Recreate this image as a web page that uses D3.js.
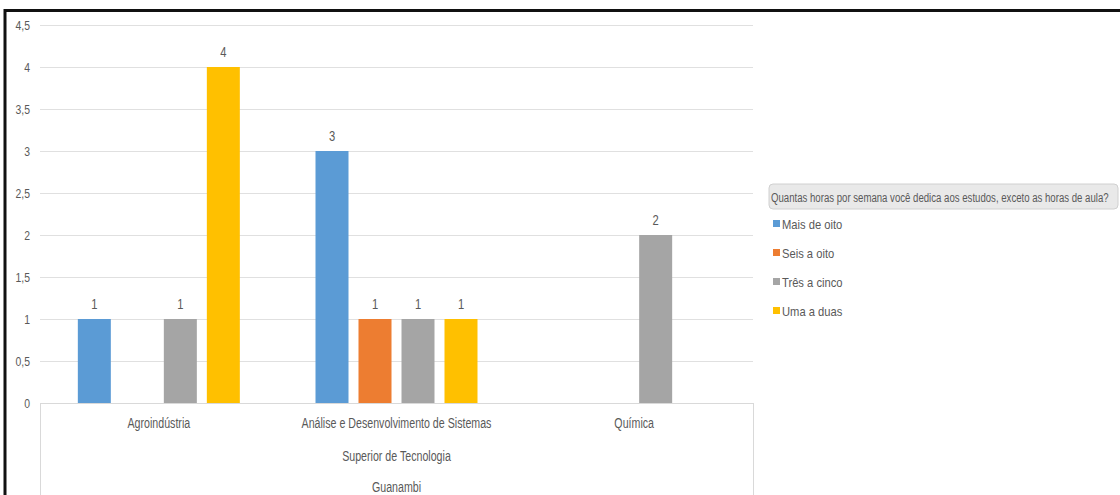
<!DOCTYPE html>
<html>
<head>
<meta charset="utf-8">
<script src="https://cdn.jsdelivr.net/npm/d3@7"></script>
<style>
  html, body { margin: 0; padding: 0; background: #fff; }
  svg { display: block; }
  text { font-family: "Liberation Sans", Arial, sans-serif; fill: #595959; }
</style>
</head>
<body>
<svg id="chart" width="1120" height="495"></svg>
<script>
const categories = ["Agroindústria", "Análise e Desenvolvimento de Sistemas", "Química"];
const level2Label = "Superior de Tecnologia";
const level3Label = "Guanambi";
const seriesNames = ["Mais de oito", "Seis a oito", "Três a cinco", "Uma a duas"];
const maisDeOito = [1, 3, null];
const seisAOito = [null, 1, null];
const tresACinco = [1, 1, 2];
const umaADuas = [4, 1, null];
const seriesColors = ["#5B9BD5", "#ED7D31", "#A5A5A5", "#FFC000"];
const yTicks = [0, 0.5, 1, 1.5, 2, 2.5, 3, 3.5, 4, 4.5];
const legendTitle = "Quantas horas por semana você dedica aos estudos, exceto as horas de aula?";

const seriesValues = [maisDeOito, seisAOito, tresACinco, umaADuas];
const FONT = '"Liberation Sans", Arial, sans-serif';

const svg = d3.select("#chart");
const plot = { left: 40, right: 753, top: 25, bottom: 403 };

const y = d3.scaleLinear().domain([0, 4.5]).range([plot.bottom, plot.top]);
const x0 = d3.scaleBand().domain(categories).range([plot.left, plot.right]).padding(0);
const groupW = 172;
const x1 = d3.scaleBand().domain(seriesNames).range([0, groupW]).paddingInner(10/43).paddingOuter(5/43);
const color = d3.scaleOrdinal().domain(seriesNames).range(seriesColors);
const fmt = v => String(v).replace(".", ",");

function condense(sel, k) {
  sel.each(function () {
    const w = this.getComputedTextLength();
    d3.select(this).attr("textLength", w * k).attr("lengthAdjust", "spacingAndGlyphs");
  });
}

// gridlines
svg.append("g")
  .selectAll("line").data(yTicks.filter(d => d > 0)).join("line")
  .attr("x1", plot.left).attr("x2", plot.right)
  .attr("y1", d => Math.round(y(d)) + 0.5).attr("y2", d => Math.round(y(d)) + 0.5)
  .attr("stroke", "#e0e0e0").attr("stroke-width", 1);

// y axis labels
const yAxis = d3.axisLeft(y).tickValues(yTicks).tickFormat(fmt).tickSize(0).tickPadding(0);
const yg = svg.append("g").attr("transform", "translate(30,0)").call(yAxis);
yg.select(".domain").remove();
yg.selectAll("text").style("font-size", "13px").attr("fill", "#595959").style("font-family", FONT);
condense(yg.selectAll("text"), 0.8);

// bars
const data = [];
categories.forEach((c, ci) => {
  seriesNames.forEach((s, si) => {
    const v = seriesValues[si][ci];
    if (v !== null && v !== undefined) data.push({ c, s, v });
  });
});
const off = (x0.bandwidth() - groupW) / 2;
const bars = svg.append("g");
bars.selectAll("rect").data(data).join("rect")
  .attr("x", d => x0(d.c) + off + x1(d.s))
  .attr("width", x1.bandwidth())
  .attr("y", d => y(d.v))
  .attr("height", d => y(0) - y(d.v))
  .attr("fill", d => color(d.s));

const labels = bars.selectAll("text").data(data).join("text")
  .attr("x", d => x0(d.c) + off + x1(d.s) + x1.bandwidth() / 2)
  .attr("y", d => y(d.v) - 10)
  .attr("text-anchor", "middle")
  .style("font-size", "14px")
  .text(d => fmt(d.v));
condense(labels, 0.8);

// category axis frame
const axisG = svg.append("g");
axisG.append("line").attr("x1", plot.left).attr("x2", plot.right)
  .attr("y1", plot.bottom + 0.5).attr("y2", plot.bottom + 0.5).attr("stroke", "#d9d9d9");
[plot.left, plot.right].forEach(xv => {
  axisG.append("line").attr("x1", xv + 0.5).attr("x2", xv + 0.5)
    .attr("y1", plot.bottom).attr("y2", 495).attr("stroke", "#d9d9d9");
});
const xAxis = d3.axisBottom(x0).tickSize(0).tickPadding(0);
const xg = svg.append("g").attr("transform", `translate(0,${plot.bottom})`).call(xAxis);
xg.select(".domain").remove();
xg.selectAll("text").attr("dy", null).attr("y", 25).style("font-size", "14px").attr("fill", "#595959")
  .style("font-family", FONT);
condense(xg.selectAll("text"), 0.76);

const midX = (plot.left + plot.right) / 2;
const l2 = axisG.append("text").attr("x", midX).attr("y", 461).attr("text-anchor", "middle")
  .style("font-size", "14px").text(level2Label);
const l3 = axisG.append("text").attr("x", midX).attr("y", 492).attr("text-anchor", "middle")
  .style("font-size", "14px").text(level3Label);
condense(l2, 0.76);
condense(l3, 0.76);

// legend
const lg = svg.append("g");
lg.append("rect").attr("x", 769).attr("y", 184).attr("width", 349).attr("height", 25)
  .attr("rx", 4).attr("fill", "#e9e9e9").attr("stroke", "#d0d0d0");
const lt = lg.append("text").attr("x", 0).attr("y", 0).style("font-size", "12.5px").attr("fill", "#404040").text(legendTitle);
const ltW = lt.node().getComputedTextLength();
lt.attr("transform", `translate(771,202) scale(${338 / ltW},1)`);
seriesNames.forEach((s, i) => {
  const cy = 224 + i * 29;
  lg.append("rect").attr("x", 773).attr("y", cy - 4).attr("width", 7).attr("height", 7).attr("fill", color(s));
  const t = lg.append("text").attr("x", 782).attr("y", cy + 5).style("font-size", "13px").text(s);
  condense(t, 0.86);
});

// outer frame
svg.append("line").attr("x1", 4).attr("x2", 1120).attr("y1", 10.5).attr("y2", 10.5).attr("stroke", "#111").attr("stroke-width", 3);
svg.append("line").attr("x1", 5).attr("x2", 5).attr("y1", 9).attr("y2", 495).attr("stroke", "#111").attr("stroke-width", 3);
</script>
</body>
</html>
